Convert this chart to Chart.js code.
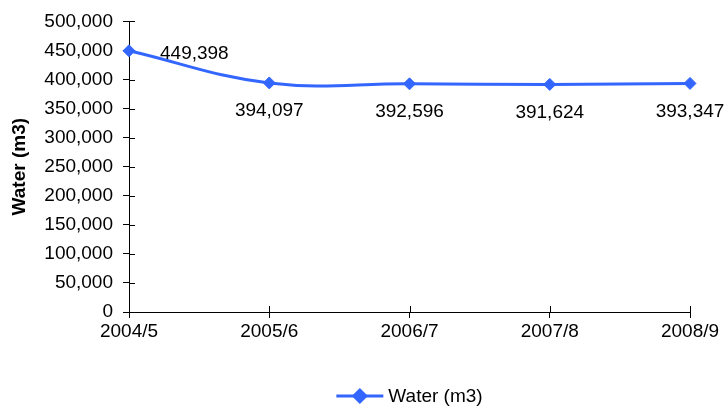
<!DOCTYPE html>
<html>
<head>
<meta charset="utf-8">
<script src="https://cdn.jsdelivr.net/npm/chart.js@4/dist/chart.umd.min.js"></script>
<style>
  html, body { margin: 0; padding: 0; background: #fff; }
  #c { display: block; }
</style>
</head>
<body>
<canvas id="c" width="726" height="408"></canvas>
<script>
const years = ['2004/5', '2005/6', '2006/7', '2007/8', '2008/9'];
const water = [449398, 394097, 392596, 391624, 393347];
const seriesName = 'Water (m3)';
const yTitle = 'Water (m3)';

const BLUE = '#3366ff';
const FONT = '"Liberation Sans", Arial, sans-serif';
const FSIZE = 19;

const fmt = v => v.toLocaleString('en-US');

// small ticks on the inner side of both axes (Excel "cross" ticks)
const crossTicks = {
  id: 'crossTicks',
  beforeDatasetsDraw(chart) {
    const { ctx, chartArea, scales } = chart;
    ctx.save();
    ctx.strokeStyle = '#000';
    ctx.lineWidth = 1;
    ctx.beginPath();
    scales.y.ticks.forEach(t => {
      const y = Math.round(scales.y.getPixelForValue(t.value)) + 0.5;
      ctx.moveTo(chartArea.left, y);
      ctx.lineTo(chartArea.left + 6, y);
    });
    years.forEach((_, i) => {
      const x = Math.round(scales.x.getPixelForValue(i)) + 0.5;
      ctx.moveTo(x, chartArea.bottom);
      ctx.lineTo(x, chartArea.bottom - 6);
    });
    ctx.stroke();
    ctx.restore();
  }
};

// value labels: first one to the right of the point, the rest below
const valueLabels = {
  id: 'valueLabels',
  afterDatasetsDraw(chart) {
    const { ctx } = chart;
    const pts = chart.getDatasetMeta(0).data;
    ctx.save();
    ctx.font = `${FSIZE}px ${FONT}`;
    ctx.fillStyle = '#000';
    ctx.textBaseline = 'middle';
    pts.forEach((p, i) => {
      const txt = fmt(water[i]);
      if (i === 0) {
        ctx.textAlign = 'left';
        ctx.fillText(txt, p.x + 31, p.y + 3);
      } else {
        ctx.textAlign = 'center';
        ctx.fillText(txt, p.x, p.y + 28);
      }
    });
    ctx.restore();
  }
};

// Excel-style legend: line with diamond, then the series name
const lineLegend = {
  id: 'lineLegend',
  afterDraw(chart) {
    const { ctx, chartArea } = chart;
    ctx.save();
    ctx.font = `${FSIZE}px ${FONT}`;
    const tw = ctx.measureText(seriesName).width;
    const total = 47 + 5 + tw;
    const x0 = (chartArea.left + chartArea.right) / 2 - total / 2;
    const y = 396;
    ctx.strokeStyle = BLUE;
    ctx.lineWidth = 3;
    ctx.beginPath();
    ctx.moveTo(x0, y);
    ctx.lineTo(x0 + 47, y);
    ctx.stroke();
    Chart.helpers.drawPoint(ctx, { pointStyle: 'rectRot', radius: 6, borderWidth: 1 }, x0 + 23.5, y);
    ctx.fillStyle = BLUE;
    ctx.fill();
    ctx.fillStyle = '#000';
    ctx.textAlign = 'left';
    ctx.textBaseline = 'middle';
    ctx.fillText(seriesName, x0 + 52, y + 1);
    ctx.restore();
  }
};

new Chart(document.getElementById('c'), {
  type: 'line',
  data: {
    labels: years,
    datasets: [{
      label: seriesName,
      data: water,
      borderColor: BLUE,
      backgroundColor: BLUE,
      borderWidth: 3,
      tension: 0.4,
      pointStyle: 'rectRot',
      pointRadius: 6,
      pointBorderWidth: 1,
      pointBackgroundColor: BLUE,
      pointBorderColor: BLUE,
      clip: false
    }]
  },
  options: {
    responsive: false,
    animation: false,
    devicePixelRatio: 1,
    layout: { padding: { left: 0, right: 36, top: 19, bottom: 0 } },
    plugins: {
      legend: { display: false },
      tooltip: { enabled: false }
    },
    scales: {
      x: {
        offset: false,
        grid: { display: true, drawOnChartArea: false, drawTicks: true, tickLength: 6, color: '#000', lineWidth: 1 },
        border: { display: true, color: '#000', width: 1 },
        ticks: { color: '#000', font: { family: FONT, size: FSIZE }, padding: 2, maxRotation: 0, autoSkip: false },
        afterFit(scale) { scale.height = 96; }
      },
      y: {
        min: 0,
        max: 500000,
        grid: { display: true, drawOnChartArea: false, drawTicks: true, tickLength: 6, color: '#000', lineWidth: 1 },
        border: { display: true, color: '#000', width: 1 },
        ticks: { stepSize: 50000, color: '#000', font: { family: FONT, size: FSIZE }, padding: 10, callback: v => fmt(v) },
        title: { display: true, text: yTitle, color: '#000', font: { family: FONT, size: FSIZE, weight: 'bold' }, padding: { top: 8, bottom: 0 } },
        afterFit(scale) { scale.width = 129; }
      }
    }
  },
  plugins: [crossTicks, valueLabels, lineLegend]
});
</script>
</body>
</html>
